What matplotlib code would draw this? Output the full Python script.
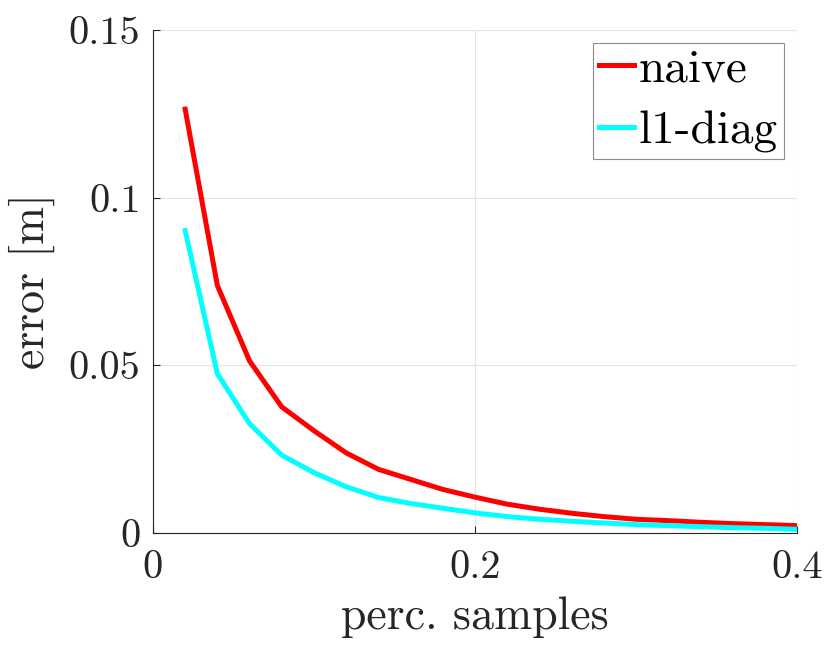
import numpy as np
import matplotlib.pyplot as plt

plt.rcParams['font.family'] = ['cmr10', 'DejaVu Serif']
plt.rcParams['axes.formatter.use_mathtext'] = True

# fraccion de muestras usadas
perc = [0.02, 0.04, 0.06, 0.08, 0.10, 0.12, 0.14, 0.16, 0.18, 0.20,
        0.22, 0.24, 0.26, 0.28, 0.30, 0.32, 0.34, 0.36, 0.38, 0.40]

# error de cada metodo
naive = [0.1264, 0.0738, 0.0513, 0.0376, 0.0305, 0.0239, 0.0190, 0.0160, 0.0130, 0.0107,
         0.0086, 0.0071, 0.0059, 0.0049, 0.0041, 0.0037, 0.0032, 0.0028, 0.0025, 0.0022]
l1_diag = [0.0902, 0.0475, 0.0326, 0.0232, 0.0180, 0.0138, 0.0106, 0.0088, 0.0074, 0.0060,
           0.0049, 0.0041, 0.0035, 0.0030, 0.0025, 0.0022, 0.0019, 0.0016, 0.0014, 0.0011]

xticks = [0, 0.2, 0.4]
yticks = [0, 0.05, 0.1, 0.15]
xticklabels = ['0', '0.2', '0.4']
yticklabels = ['0', '0.05', '0.1', '0.15']

gris = '#262626'

fig = plt.figure(figsize=(8.3, 6.6), dpi=100)
ax = fig.add_axes([0.1843, 0.1924, 0.7759, 0.7621])

ax.plot(perc, naive, color='#ff0000', lw=3.6, label='naive')
ax.plot(perc, l1_diag, color='#00ffff', lw=3.6, label='l1-diag')

ax.set_xlim(0, 0.4)
ax.set_ylim(0, 0.15)
ax.set_xticks(xticks)
ax.set_xticklabels(xticklabels)
ax.set_yticks(yticks)
ax.set_yticklabels(yticklabels)

ax.grid(True, color='#e3e3e3', lw=0.8)
ax.set_axisbelow(True)
for s in ['top', 'right']:
    ax.spines[s].set_visible(False)
for s in ['left', 'bottom']:
    ax.spines[s].set_color(gris)
    ax.spines[s].set_linewidth(0.8)

ax.tick_params(direction='in', length=5, width=0.8, colors=gris, labelsize=29)
ax.tick_params(axis='x', pad=12)
ax.tick_params(axis='y', pad=9)

ax.set_xlabel('perc. samples', fontsize=33, color=gris, labelpad=8)
ax.set_ylabel('error [m]', fontsize=33, color=gris, labelpad=10)

leg = ax.legend(loc='upper right', fontsize=34, handlelength=0.75, handletextpad=0.1,
                borderpad=0.12, borderaxespad=0.28, labelspacing=0.42, fancybox=False,
                framealpha=1)
leg.get_frame().set_edgecolor('#8c8c8c')
leg.get_frame().set_linewidth(0.8)

plt.savefig('out.png', dpi=100)
